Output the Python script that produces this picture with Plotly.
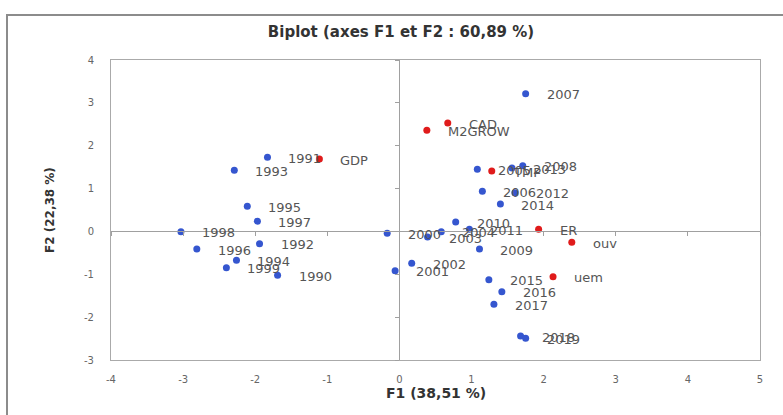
import plotly.graph_objects as go

# Observations (years) - F1, F2 coordinates
years = ["1990", "1991", "1992", "1993", "1994", "1995", "1996", "1997", "1998", "1999",
         "2000", "2001", "2002", "2003", "2004", "2005", "2006", "2007", "2008", "2009",
         "2010", "2011", "2012", "2013", "2014", "2015", "2016", "2017", "2018", "2019"]
years_f1 = [-1.69, -1.83, -1.94, -2.29, -2.26, -2.11, -2.81, -1.97, -3.03, -2.40,
            -0.17, -0.06, 0.17, 0.39, 0.58, 1.08, 1.15, 1.75, 1.71, 1.11,
            0.78, 0.97, 1.60, 1.56, 1.40, 1.24, 1.42, 1.31, 1.68, 1.75]
years_f2 = [-1.02, 1.73, -0.29, 1.43, -0.67, 0.59, -0.41, 0.24, -0.01, -0.85,
            -0.04, -0.92, -0.74, -0.13, -0.01, 1.45, 0.94, 3.21, 1.53, -0.41,
            0.22, 0.05, 0.90, 1.48, 0.64, -1.13, -1.41, -1.70, -2.44, -2.49]

# Variables
variables = ["GDP", "CAD", "M2GROW", "TMP", "ER", "ouv", "uem"]
vars_f1 = [-1.11, 0.67, 0.38, 1.28, 1.93, 2.39, 2.13]
vars_f2 = [1.69, 2.53, 2.36, 1.41, 0.05, -0.25, -1.06]

x_ticks = [-4, -3, -2, -1, 0, 1, 2, 3, 4, 5]
y_ticks = [-3, -2, -1, 0, 1, 2, 3, 4]

title_text = "Biplot (axes F1 et F2 : 60,89 %)"
x_title = "F1 (38,51 %)"
y_title = "F2 (22,38 %)"

BLUE = "#3556cf"
RED = "#e01b1b"
LABEL_FONT = dict(family="DejaVu Sans", size=13, color="#555555")

fig = go.Figure()
fig.add_trace(go.Scatter(x=years_f1, y=years_f2, mode="markers",
                         marker=dict(color=BLUE, size=7), name="Observations",
                         hoverinfo="text", text=years))
fig.add_trace(go.Scatter(x=vars_f1, y=vars_f2, mode="markers",
                         marker=dict(color=RED, size=7), name="Variables",
                         hoverinfo="text", text=variables))
# invisible trace for the zero-line axes with ticks
fig.add_trace(go.Scatter(x=[None], y=[None], xaxis="x2", yaxis="y2",
                         mode="markers", showlegend=False, hoverinfo="skip"))

annotations = []
for lbl, xv, yv in list(zip(years, years_f1, years_f2)) + list(zip(variables, vars_f1, vars_f2)):
    annotations.append(dict(x=xv, y=yv, xref="x", yref="y", text=lbl, showarrow=False,
                            xanchor="left", yanchor="middle", xshift=19, yshift=-1,
                            font=LABEL_FONT))

annotations.append(dict(x=0.5, y=-0.11, xref="paper", yref="paper", text="<b>" + x_title + "</b>",
                        showarrow=False, xanchor="center", yanchor="middle",
                        font=dict(family="DejaVu Sans", size=14, color="#333333")))
annotations.append(dict(x=-0.094, y=0.5, xref="paper", yref="paper", text="<b>" + y_title + "</b>",
                        showarrow=False, xanchor="center", yanchor="middle", textangle=-90,
                        font=dict(family="DejaVu Sans", size=12, color="#333333")))

tickfont = dict(family="DejaVu Sans", size=10, color="#666666")

fig.update_layout(
    width=783, height=415,
    margin=dict(l=111, r=23, t=60, b=55),
    paper_bgcolor="white", plot_bgcolor="white",
    showlegend=False,
    title=dict(text="<b>" + title_text + "</b>", x=401 / 783, xref="container", xanchor="center",
               y=1 - 32 / 415, yref="container", yanchor="middle",
               font=dict(family="DejaVu Sans", size=15, color="#333333")),
    xaxis=dict(range=[-4, 5], tickvals=x_ticks, ticktext=[str(v) for v in x_ticks],
               showgrid=False, zeroline=False, showline=True, mirror=True,
               linecolor="#aaaaaa", linewidth=1, ticks="", tickfont=tickfont,
               ticklabelstandoff=10),
    yaxis=dict(range=[-3, 4], tickvals=y_ticks, ticktext=[str(v) for v in y_ticks],
               showgrid=False, zeroline=False, showline=True, mirror=True,
               linecolor="#aaaaaa", linewidth=1, ticks="", tickfont=tickfont,
               ticklabelstandoff=14),
    xaxis2=dict(range=[-4, 5], overlaying="x", anchor="free", position=3 / 7,
                tickvals=x_ticks, showticklabels=False, showgrid=False, zeroline=False,
                showline=True, linecolor="#a0a0a0", linewidth=1, ticks="outside",
                ticklen=4, tickcolor="#a0a0a0"),
    yaxis2=dict(range=[-3, 4], overlaying="y", anchor="free", position=4 / 9,
                tickvals=y_ticks, showticklabels=False, showgrid=False, zeroline=False,
                showline=True, linecolor="#a0a0a0", linewidth=1, ticks="outside",
                ticklen=4, tickcolor="#a0a0a0"),
    annotations=annotations,
    shapes=[dict(type="rect", xref="paper", yref="paper",
                 x0=(7 - 111) / 649, x1=1.3, y0=-0.6, y1=1 + (60 - 15) / 300,
                 line=dict(color="#8c8c8c", width=2), fillcolor="rgba(0,0,0,0)", layer="below")],
)

fig.write_html("out.html")
